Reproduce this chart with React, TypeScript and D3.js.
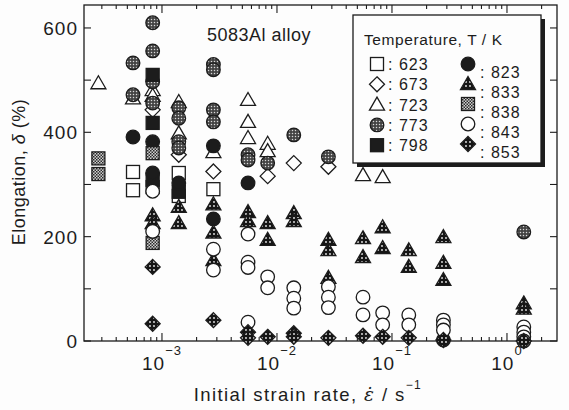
import * as d3 from "d3";

// strain rate (1/s), elongation (%)
const t623: [number, number][] = [
  [5.6e-4, 324], [5.6e-4, 289], [8.3e-4, 295], [1.4e-3, 322], [1.4e-3, 278], [2.8e-3, 291],
];
const t673: [number, number][] = [
  [8.3e-4, 443], [1.4e-3, 357], [2.8e-3, 325], [8.3e-3, 316], [1.4e-2, 341], [2.8e-2, 334],
];
const t723: [number, number][] = [
  [2.8e-4, 494], [5.6e-4, 465], [8.3e-4, 481], [8.3e-4, 470], [1.4e-3, 458], [1.4e-3, 398],
  [2.8e-3, 362], [5.6e-3, 462], [5.6e-3, 420], [5.6e-3, 389], [8.3e-3, 378], [8.3e-3, 364],
  [5.6e-2, 318], [8.3e-2, 314],
];
const t773: [number, number][] = [
  [5.6e-4, 533], [5.6e-4, 472], [8.3e-4, 610], [8.3e-4, 556], [8.3e-4, 497], [8.3e-4, 456],
  [1.4e-3, 447], [1.4e-3, 427], [1.4e-3, 382], [1.4e-3, 370], [2.8e-3, 530], [2.8e-3, 520],
  [2.8e-3, 443], [2.8e-3, 420], [5.6e-3, 357], [5.6e-3, 347], [8.3e-3, 341], [1.4e-2, 395],
  [2.8e-2, 353], [1.4, 209],
];
const t798: [number, number][] = [
  [8.3e-4, 510], [8.3e-4, 418], [8.3e-4, 309], [1.4e-3, 286],
];
const t823: [number, number][] = [
  [5.6e-4, 391], [8.3e-4, 382], [8.3e-4, 322], [1.4e-3, 303], [2.8e-3, 374], [2.8e-3, 234],
  [5.6e-3, 303], [2.8e-1, 2],
];
const t833: [number, number][] = [
  [8.3e-4, 241], [8.3e-4, 226], [1.4e-3, 257], [1.4e-3, 226], [2.8e-3, 262], [2.8e-3, 208],
  [2.8e-3, 155], [5.6e-3, 247], [5.6e-3, 230], [8.3e-3, 226], [8.3e-3, 194], [1.4e-2, 245],
  [1.4e-2, 230], [2.8e-2, 194], [2.8e-2, 174], [2.8e-2, 121], [5.6e-2, 197], [5.6e-2, 161],
  [8.3e-2, 218], [8.3e-2, 178], [1.4e-1, 174], [1.4e-1, 142], [2.8e-1, 199], [2.8e-1, 150],
  [2.8e-1, 117], [1.4, 72], [1.4, 62],
];
const t838: [number, number][] = [
  [2.8e-4, 350], [2.8e-4, 320], [8.3e-4, 360], [8.3e-4, 188],
];
const t843: [number, number][] = [
  [8.3e-4, 287], [8.3e-4, 210], [2.8e-3, 176], [2.8e-3, 136], [5.6e-3, 205], [5.6e-3, 151],
  [5.6e-3, 141], [5.6e-3, 36], [8.3e-3, 123], [8.3e-3, 102], [1.4e-2, 102], [1.4e-2, 82],
  [1.4e-2, 63], [2.8e-2, 104], [2.8e-2, 84], [2.8e-2, 64], [5.6e-2, 84], [5.6e-2, 50],
  [8.3e-2, 54], [8.3e-2, 31], [1.4e-1, 50], [1.4e-1, 31], [2.8e-1, 40], [2.8e-1, 31],
  [2.8e-1, 21], [1.4, 27], [1.4, 17], [1.4, 8], [1.4, 0],
];
const t853: [number, number][] = [
  [8.3e-4, 142], [8.3e-4, 33], [2.8e-3, 40], [5.6e-3, 17], [5.6e-3, 6], [8.3e-3, 8],
  [1.4e-2, 15], [1.4e-2, 8], [2.8e-2, 6], [5.6e-2, 10], [8.3e-2, 8], [1.4e-1, 6],
  [2.8e-1, 2], [1.4, 0],
];

const series = [
  { temp: "623", kind: "square", data: t623 },
  { temp: "673", kind: "diamond", data: t673 },
  { temp: "723", kind: "triangle", data: t723 },
  { temp: "773", kind: "circleDot", data: t773 },
  { temp: "798", kind: "squareFill", data: t798 },
  { temp: "823", kind: "circleFill", data: t823 },
  { temp: "833", kind: "triangleDot", data: t833 },
  { temp: "838", kind: "squareChecker", data: t838 },
  { temp: "843", kind: "circle", data: t843 },
  { temp: "853", kind: "diamondDot", data: t853 },
];

const yTicks = [0, 100, 200, 300, 400, 500, 600];
const yLabels = [0, 200, 400, 600];
const xDecades = [-3, -2, -1, 0];

const FONT = "'Liberation Sans', Arial, sans-serif";
const INK = "#1c1c1c";

function Marker({ kind, cx, cy }: { kind: string; cx: number; cy: number }) {
  const st = { stroke: INK, strokeWidth: 1.3 };
  const tri = `${cx},${cy - 7.5} ${cx + 7.5},${cy + 5.5} ${cx - 7.5},${cy + 5.5}`;
  const dia = `${cx},${cy - 7.5} ${cx + 7.5},${cy} ${cx},${cy + 7.5} ${cx - 7.5},${cy}`;
  switch (kind) {
    case "square":
      return <rect x={cx - 6.5} y={cy - 6.5} width={13} height={13} fill="#fff" {...st} />;
    case "squareFill":
      return <rect x={cx - 6.5} y={cy - 6.5} width={13} height={13} fill={INK} {...st} />;
    case "squareChecker":
      return <rect x={cx - 6.5} y={cy - 6.5} width={13} height={13} fill="url(#checker)" {...st} />;
    case "diamond":
      return <polygon points={dia} fill="#fff" {...st} />;
    case "diamondDot":
      return <polygon points={dia} fill="url(#dotBlack)" {...st} />;
    case "triangle":
      return <polygon points={tri} fill="#fff" {...st} />;
    case "triangleDot":
      return <polygon points={tri} fill="url(#dotBlack)" {...st} />;
    case "circleDot":
      return <circle cx={cx} cy={cy} r={6.8} fill="url(#dotGray)" {...st} />;
    case "circleFill":
      return <circle cx={cx} cy={cy} r={6.8} fill={INK} {...st} />;
    default:
      return <circle cx={cx} cy={cy} r={6.8} fill="#fff" {...st} />;
  }
}

export default function App() {
  const left = 84, right = 557, top = 5, bottom = 341;
  const x = d3.scaleLog().domain([Math.pow(10, -3.678), Math.pow(10, 0.435)]).range([left, right]);
  const y = d3.scaleLinear().domain([0, 644]).range([bottom, top]);
  const xTicks = x.ticks();

  const legendLeft = series.slice(0, 5);
  const legendRight = series.slice(5);

  return (
    <div style={{ position: "absolute", left: 0, top: 0 }}>
      <svg width={569} height={410} style={{ display: "block", background: "#fdfdfd" }} fontFamily={FONT}>
        <defs>
          <pattern id="dotGray" width="3" height="3" patternUnits="userSpaceOnUse">
            <rect width="3" height="3" fill="#444" />
            <circle cx="1.5" cy="1.5" r="0.75" fill="#d8d8d8" />
          </pattern>
          <pattern id="checker" width="3" height="3" patternUnits="userSpaceOnUse">
            <rect width="3" height="3" fill="#d0d0d0" />
            <rect width="1.5" height="1.5" fill="#2a2a2a" />
            <rect x="1.5" y="1.5" width="1.5" height="1.5" fill="#2a2a2a" />
          </pattern>
          <pattern id="dotBlack" width="4" height="4" patternUnits="userSpaceOnUse">
            <rect width="4" height="4" fill="#151515" />
            <circle cx="2" cy="2" r="0.9" fill="#eee" />
          </pattern>
        </defs>

        {/* frame */}
        <rect x={left} y={top} width={right - left} height={bottom - top} fill="none" stroke={INK} strokeWidth={1.3} />

        {/* x ticks, bottom and top, inward */}
        {xTicks.map((t, i) => {
          const major = Math.abs(Math.log10(t) - Math.round(Math.log10(t))) < 1e-6;
          const len = major ? 8 : 4;
          const px = x(t);
          return (
            <g key={"xt" + i} stroke={INK} strokeWidth={1.1}>
              <line x1={px} x2={px} y1={bottom} y2={bottom - len} />
              <line x1={px} x2={px} y1={top} y2={top + len} />
            </g>
          );
        })}
        {xDecades.map((d) => (
          <text key={"xl" + d} x={x(Math.pow(10, d))} y={370} fontSize={19} fill={INK} textAnchor="middle" letterSpacing={1}>
            10
            <tspan dy={-15} fontSize={13}>{d === 0 ? "0" : "\u2212" + Math.abs(d)}</tspan>
          </text>
        ))}

        {/* y ticks */}
        {yTicks.map((t) => (
          <g key={"yt" + t} stroke={INK} strokeWidth={1.1}>
            <line x1={left} x2={left + 7} y1={y(t)} y2={y(t)} />
            <line x1={right} x2={right - 7} y1={y(t)} y2={y(t)} />
          </g>
        ))}
        {yLabels.map((t) => (
          <text key={"yl" + t} x={78} y={y(t) + 7} fontSize={19} fill={INK} textAnchor="end" letterSpacing={1}>
            {t}
          </text>
        ))}

        {/* axis titles */}
        <text transform="translate(25,172) rotate(-90)" fontSize={18} fill={INK} textAnchor="middle" letterSpacing={0.5}>
          Elongation, <tspan fontStyle="italic">δ</tspan> (%)
        </text>
        <text x={308} y={401} fontSize={18.5} fill={INK} textAnchor="middle" letterSpacing={1.4}>
          Initial strain rate, <tspan fontStyle="italic" fontFamily="'DejaVu Serif', serif">ε̇</tspan> / s
          <tspan dy={-12} fontSize={12}>−1</tspan>
        </text>

        {/* data */}
        {series.map((s) => (
          <g key={s.temp}>
            {s.data.map((d, i) => (
              <Marker key={i} kind={s.kind} cx={x(d[0])} cy={y(d[1])} />
            ))}
          </g>
        ))}

        <text x={207} y={41} fontSize={18} fill={INK} letterSpacing={0.5}>5083Al alloy</text>

        {/* legend */}
        <rect x={357} y={19} width={188} height={148} fill={INK} />
        <rect x={353} y={15} width={188} height={148} fill="#fdfdfd" stroke={INK} strokeWidth={1.3} />
        <text x={364} y={45} fontSize={15.5} fill={INK} letterSpacing={0.6}>Temperature, T / K</text>
        {legendLeft.map((s, i) => (
          <g key={"ll" + s.temp}>
            <Marker kind={s.kind} cx={377} cy={64 + i * 20.3} />
            <text x={388} y={70 + i * 20.3} fontSize={16} fill={INK} letterSpacing={1}>: {s.temp}</text>
          </g>
        ))}
        {legendRight.map((s, i) => (
          <g key={"lr" + s.temp}>
            <Marker kind={s.kind} cx={468} cy={64 + i * 20} />
            <text x={480} y={78 + i * 20} fontSize={16} fill={INK} letterSpacing={1}>: {s.temp}</text>
          </g>
        ))}
      </svg>
    </div>
  );
}
